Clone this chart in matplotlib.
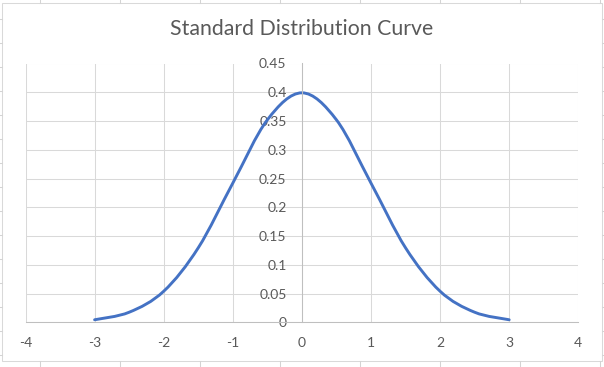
import matplotlib
matplotlib.use("Agg")
import matplotlib.pyplot as plt
import numpy as np
from matplotlib.path import Path
from matplotlib.patches import PathPatch, Rectangle

# data (points Excel smooths through)
x_vals = [-3, -2.5, -2, -1.5, -1, -0.5, 0, 0.5, 1, 1.5, 2, 2.5, 3]
y_vals = [0.0044, 0.0175, 0.054, 0.1295, 0.242, 0.352, 0.399,
          0.352, 0.242, 0.1295, 0.054, 0.0175, 0.0044]
x_ticks = [-4, -3, -2, -1, 0, 1, 2, 3, 4]
y_ticks = [0, 0.05, 0.1, 0.15, 0.2, 0.25, 0.3, 0.35, 0.4, 0.45]
title = "Standard Distribution Curve"

TEXT = '#595959'
GRID = '#D9D9D9'
AXIS = '#BFBFBF'
LINE = '#4472C4'
plt.rcParams['font.family'] = ['Lato', 'DejaVu Sans']

W, H = 604, 367
fig = plt.figure(figsize=(W / 100, H / 100), dpi=100, facecolor='white')

# spreadsheet cells behind the chart object
bg = fig.add_axes([0, 0, 1, 1])
bg.set_xlim(0, W)
bg.set_ylim(H, 0)
bg.axis('off')
for cx in range(40, W, 80):
    bg.plot([cx, cx], [0, 3], color='#D4D4D4', lw=0.75)
    bg.plot([cx, cx], [361, H], color='#D4D4D4', lw=0.75)
for cy in np.arange(19.3, H, 24):
    bg.plot([602, W], [cy, cy], color='#D4D4D4', lw=0.75)
    bg.plot([0, 2], [cy, cy], color='#D4D4D4', lw=0.75)
bg.add_patch(Rectangle((2, 3), 600, 358, fill=True, facecolor='white',
                       edgecolor='#D9D9D9', lw=0.75))

ax = fig.add_axes([25.5 / W, 1 - 322.3 / H, (578.3 - 25.5) / W, (322.3 - 63.5) / H])
ax.set_xlim(-4, 4)
ax.set_ylim(0, 0.45)
ax.set_xticks(x_ticks)
ax.set_yticks(y_ticks)
ax.set_xticklabels([str(t) for t in x_ticks])
ax.set_yticklabels(['0', '0.05', '0.1', '0.15', '0.2', '0.25', '0.3', '0.35', '0.4', '0.45'])
ax.grid(True, color=GRID, lw=0.75)
ax.set_axisbelow(True)
ax.set_facecolor('none')
for s in ['top', 'right']:
    ax.spines[s].set_visible(False)
ax.spines['left'].set_position(('data', 0))
ax.spines['left'].set_color(AXIS)
ax.spines['bottom'].set_color(AXIS)
ax.spines['left'].set_linewidth(0.75)
ax.spines['bottom'].set_linewidth(0.75)
ax.tick_params(length=0, labelsize=10, colors=TEXT)
ax.tick_params(axis='y', pad=11)
ax.tick_params(axis='x', pad=10.5)

# smoothed line (Catmull-Rom style bezier, like Excel's "smoothed line")
px = np.array(x_vals, dtype=float)
py = np.array(y_vals, dtype=float)
verts = [(px[0], py[0])]
codes = [Path.MOVETO]
n = len(px)
for i in range(n - 1):
    p0 = i - 1 if i > 0 else i
    p3 = i + 2 if i + 2 < n else i + 1
    c1 = (px[i] + (px[i + 1] - px[p0]) / 6, py[i] + (py[i + 1] - py[p0]) / 6)
    c2 = (px[i + 1] - (px[p3] - px[i]) / 6, py[i + 1] - (py[p3] - py[i]) / 6)
    verts += [c1, c2, (px[i + 1], py[i + 1])]
    codes += [Path.CURVE4] * 3
ax.add_patch(PathPatch(Path(verts, codes), facecolor='none', edgecolor=LINE,
                       lw=2.1, capstyle='round', clip_on=False))

fig.text(302 / W, 1 - 29 / H, title, ha='center', va='center',
         fontsize=15.3, color=TEXT)

fig.savefig('out.png', dpi=100, facecolor='white')
